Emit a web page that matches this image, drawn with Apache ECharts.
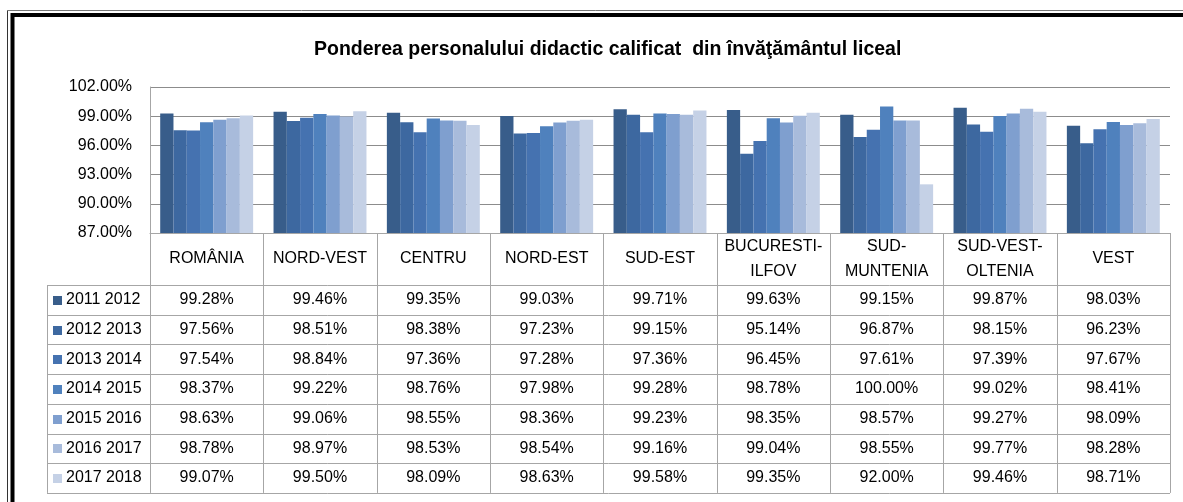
<!DOCTYPE html>
<html>
<head>
<meta charset="utf-8">
<script src="https://cdn.jsdelivr.net/npm/echarts@6/dist/echarts.min.js"></script>
<style>
  html, body { margin: 0; padding: 0; background: #fff; }
  #chart { width: 1183px; height: 502px; }
</style>
</head>
<body>
<div id="chart"></div>
<script>
// regions (header row of the data table)
var regions = ['ROMÂNIA', 'NORD-VEST', 'CENTRU', 'NORD-EST', 'SUD-EST', 'BUCURESTI-\nILFOV', 'SUD-\nMUNTENIA', 'SUD-VEST-\nOLTENIA', 'VEST'];
var years = ['2011 2012', '2012 2013', '2013 2014', '2014 2015', '2015 2016', '2016 2017', '2017 2018'];
var colors = ['#385d8a', '#3d68a0', '#4572b0', '#4f81bd', '#7f9fcf', '#a8bbdb', '#c5d1e6'];

// one array per school year, same order as regions
var y2011 = [99.28, 99.46, 99.35, 99.03, 99.71, 99.63, 99.15, 99.87, 98.03];
var y2012 = [97.56, 98.51, 98.38, 97.23, 99.15, 95.14, 96.87, 98.15, 96.23];
var y2013 = [97.54, 98.84, 97.36, 97.28, 97.36, 96.45, 97.61, 97.39, 97.67];
var y2014 = [98.37, 99.22, 98.76, 97.98, 99.28, 98.78, 100.00, 99.02, 98.41];
var y2015 = [98.63, 99.06, 98.55, 98.36, 99.23, 98.35, 98.57, 99.27, 98.09];
var y2016 = [98.78, 98.97, 98.53, 98.54, 99.16, 99.04, 98.55, 99.77, 98.28];
var y2017 = [99.07, 99.50, 98.09, 98.63, 99.58, 99.35, 92.00, 99.46, 98.71];
var values = [y2011, y2012, y2013, y2014, y2015, y2016, y2017];

var yMin = 87, yMax = 102, yStep = 3;

// layout of plot + table
var gridLeft = 150, gridRight = 1170, gridTop = 87, gridBottom = 233;
var headerBottom = 285, rowH = 29.7, legendLeft = 47;
var colW = (gridRight - gridLeft) / regions.length;
var font = '16px "Liberation Sans", Arial, sans-serif';
var lineColor = '#a6a6a6';

function px(v) { return Math.round(v) + 0.5; }

var graphics = [];

// outer frame (double border, cut at right and bottom)
graphics.push({ type: 'line', shape: { x1: 7.5, y1: 10.5, x2: 1183, y2: 10.5 }, style: { stroke: '#777', lineWidth: 1 } });
graphics.push({ type: 'line', shape: { x1: 7.5, y1: 10.5, x2: 7.5, y2: 502 }, style: { stroke: '#333', lineWidth: 1 } });
graphics.push({ type: 'line', shape: { x1: 12.5, y1: 15, x2: 1183, y2: 15 }, style: { stroke: '#000', lineWidth: 4 } });
graphics.push({ type: 'line', shape: { x1: 12.5, y1: 13, x2: 12.5, y2: 502 }, style: { stroke: '#000', lineWidth: 4 } });

// table horizontal lines
for (var r = 0; r <= years.length; r++) {
  var yy = px(headerBottom + r * rowH);
  graphics.push({ type: 'line', shape: { x1: legendLeft, y1: yy, x2: gridRight, y2: yy }, style: { stroke: lineColor, lineWidth: 1 } });
}
// table vertical lines
graphics.push({ type: 'line', shape: { x1: px(legendLeft), y1: headerBottom, x2: px(legendLeft), y2: headerBottom + years.length * rowH }, style: { stroke: lineColor, lineWidth: 1 } });
for (var c = 0; c <= regions.length; c++) {
  var xx = px(gridLeft + c * colW);
  graphics.push({ type: 'line', shape: { x1: xx, y1: gridBottom, x2: xx, y2: headerBottom + years.length * rowH }, style: { stroke: lineColor, lineWidth: 1 } });
}

// legend keys + values
years.forEach(function (name, i) {
  var cy = headerBottom + (i + 0.5) * rowH;
  graphics.push({ type: 'rect', shape: { x: 53, y: Math.round(cy) - 4, width: 9, height: 9 }, style: { fill: colors[i] } });
  graphics.push({ type: 'text', style: { text: name, x: 66, y: cy, font: font, fill: '#000', textAlign: 'left', textVerticalAlign: 'middle', verticalAlign: 'middle' } });
  values[i].forEach(function (v, j) {
    graphics.push({
      type: 'text',
      style: { text: v.toFixed(2) + '%', x: gridLeft + (j + 0.5) * colW, y: cy, font: font, fill: '#000', textAlign: 'center', textVerticalAlign: 'middle', verticalAlign: 'middle' }
    });
  });
});

var chart = echarts.init(document.getElementById('chart'));
var option = {
  animation: false,
  backgroundColor: '#fff',
  color: colors,
  title: {
    text: 'Ponderea personalului didactic calificat  din învăţământul liceal',
    left: 309,
    top: 35,
    textStyle: { fontFamily: '"Liberation Sans", Arial, sans-serif', fontSize: 19.5, fontWeight: 'bold', color: '#000' }
  },
  grid: { left: gridLeft, top: gridTop, width: gridRight - gridLeft, height: gridBottom - gridTop, containLabel: false },
  xAxis: {
    type: 'category',
    data: regions,
    axisLine: { show: true, lineStyle: { color: lineColor } },
    axisTick: { show: false },
    axisLabel: {
      interval: 0,
      margin: 26,
      verticalAlign: 'middle',
      lineHeight: 25,
      fontFamily: '"Liberation Sans", Arial, sans-serif',
      fontSize: 16,
      color: '#000'
    }
  },
  yAxis: {
    type: 'value',
    min: yMin,
    max: yMax,
    interval: yStep,
    axisLine: { show: true, lineStyle: { color: lineColor } },
    axisTick: { show: false },
    splitLine: { lineStyle: { color: '#8c8c8c' } },
    axisLabel: {
      margin: 18,
      fontFamily: '"Liberation Sans", Arial, sans-serif',
      fontSize: 16,
      color: '#000',
      formatter: function (v) { return v.toFixed(2) + '%'; }
    }
  },
  series: years.map(function (name, i) {
    return {
      name: name,
      type: 'bar',
      data: values[i],
      barGap: '0%',
      barCategoryGap: '18%',
      itemStyle: { color: colors[i] }
    };
  }),
  graphic: graphics
};
chart.setOption(option);
</script>
</body>
</html>
